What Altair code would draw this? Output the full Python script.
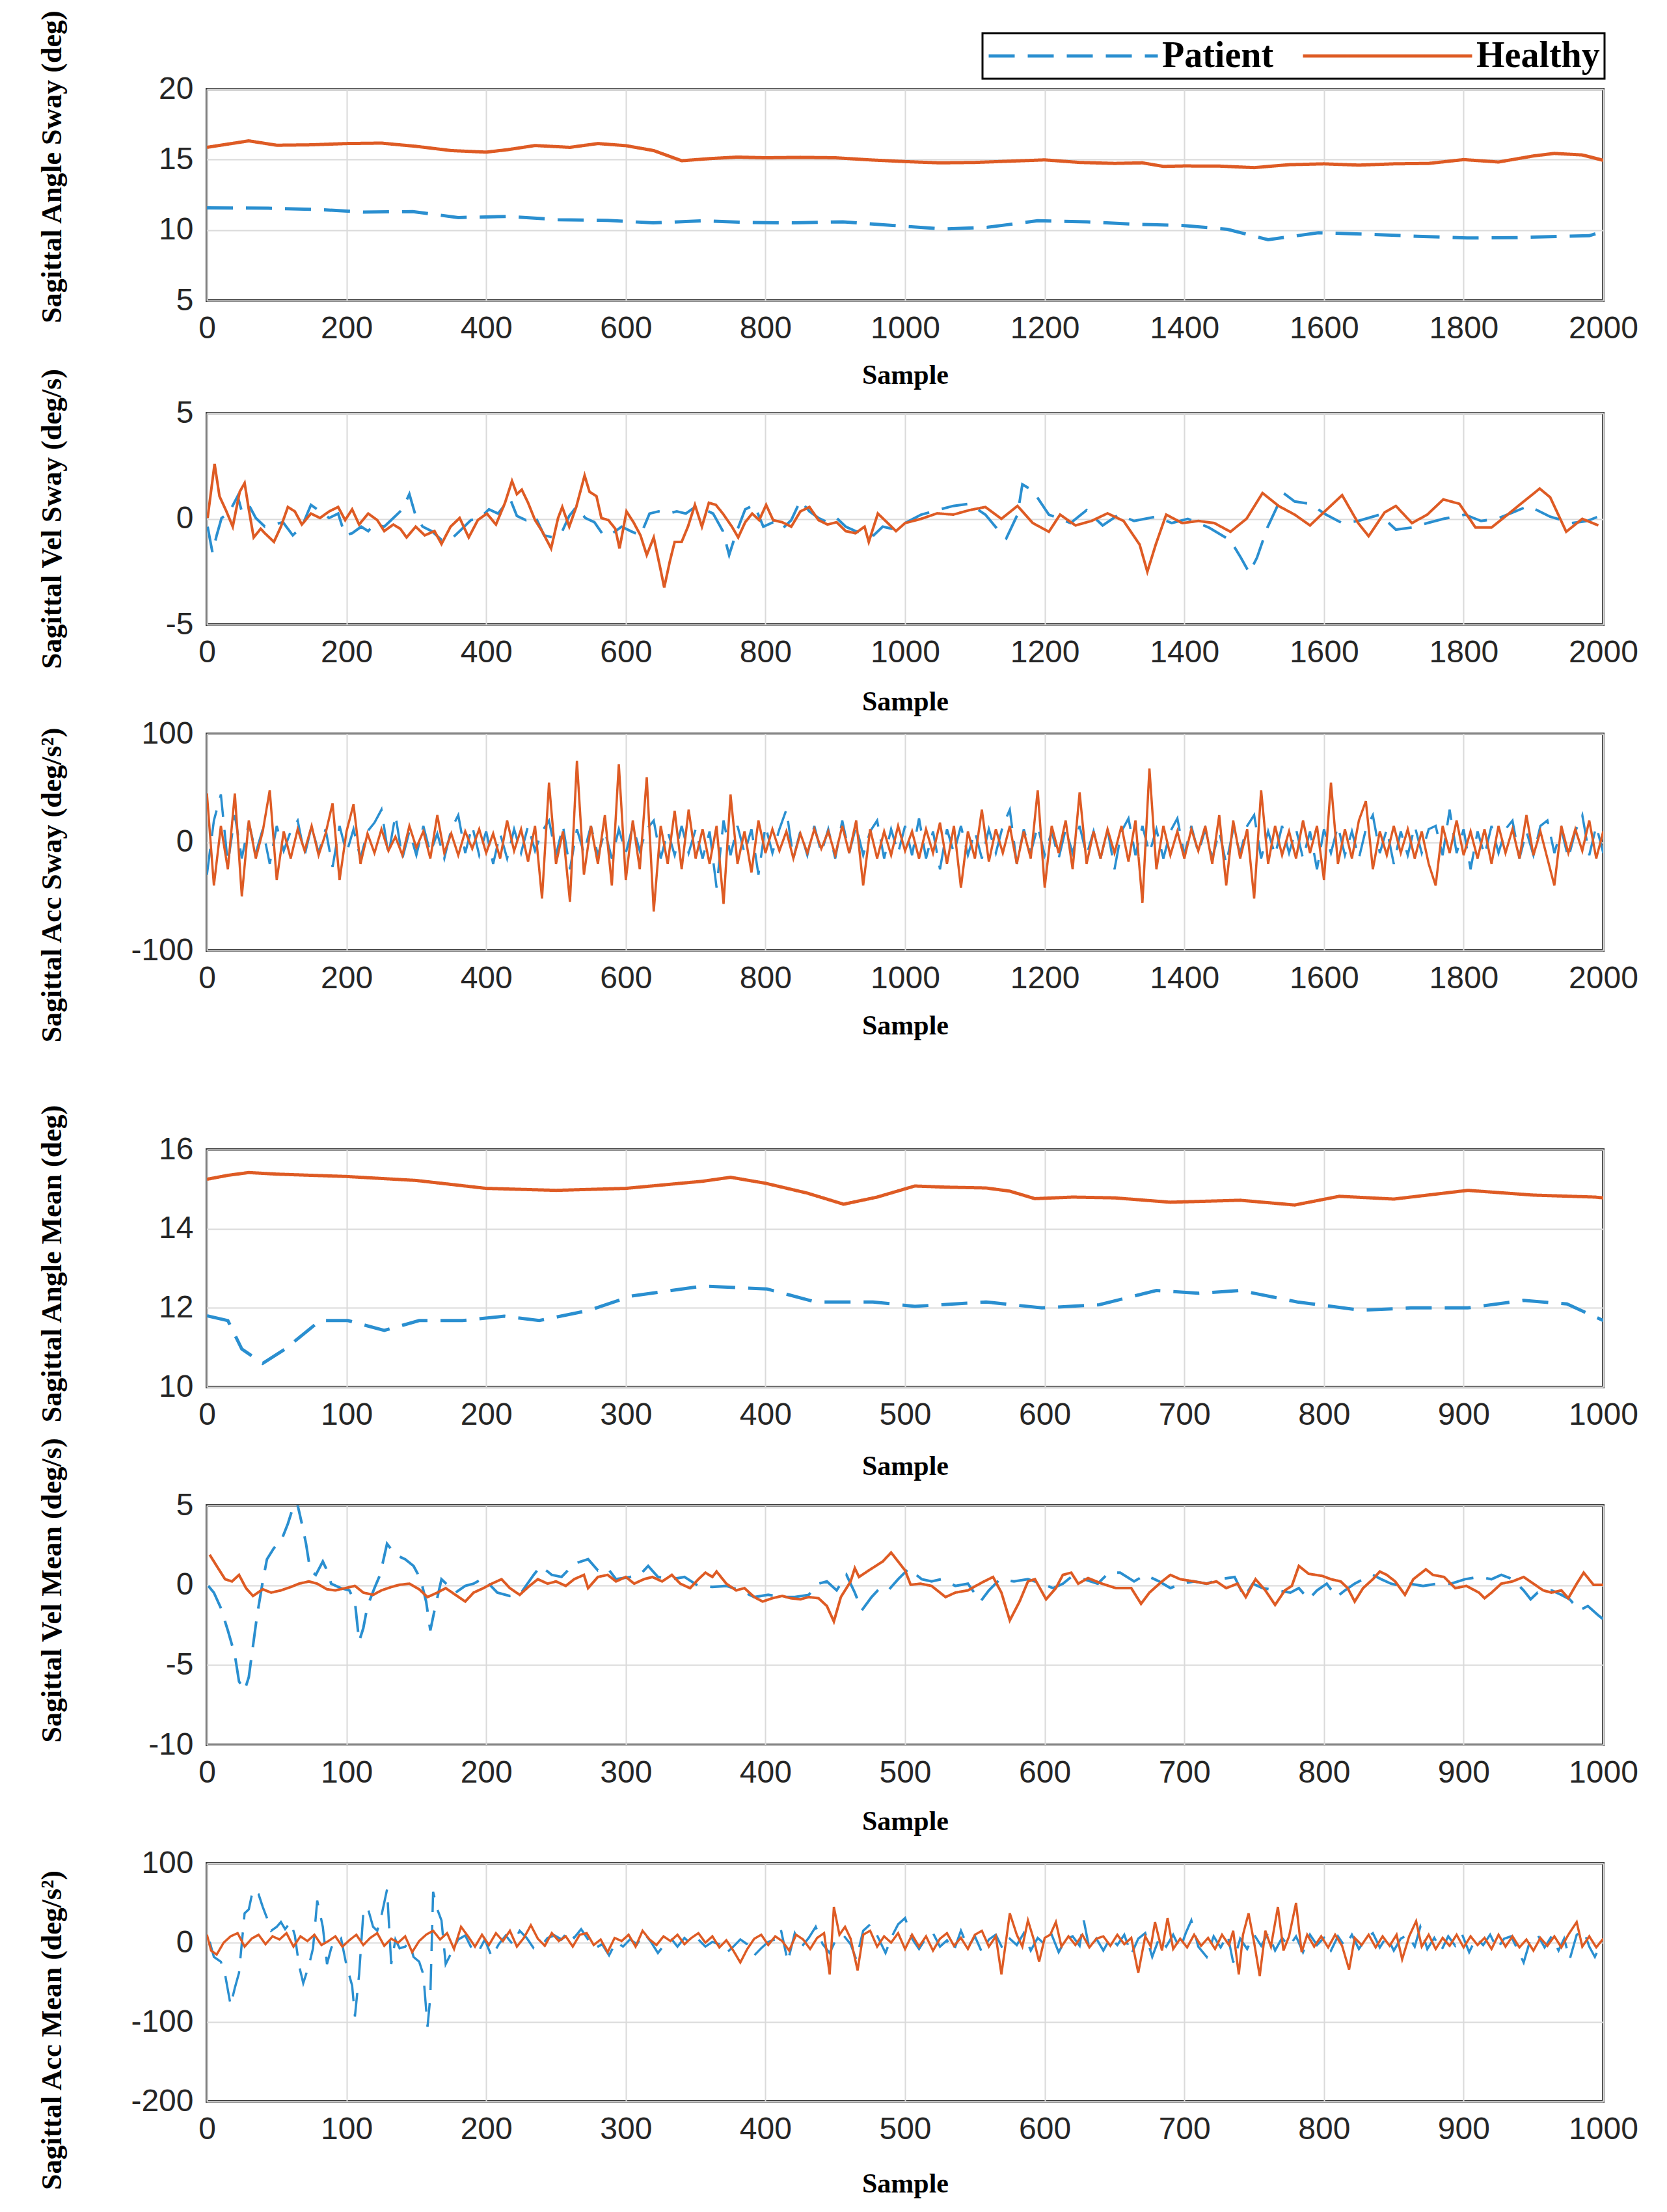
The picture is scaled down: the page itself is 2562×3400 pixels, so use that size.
import altair as alt
import pandas as pd

SERIES = ["Patient", "Healthy"]
COLORS = ["#2a8fd0", "#de5b24"]
DASHES = [[40, 20], [1, 0]]
X_TICKS_2000 = [0, 200, 400, 600, 800, 1000, 1200, 1400, 1600, 1800, 2000]
X_TICKS_1000 = [0, 100, 200, 300, 400, 500, 600, 700, 800, 900, 1000]

# ---------- Panel 1: Sagittal Angle Sway ----------
P1_PATIENT = [(0, 11.58), (88, 11.55), (159, 11.46), (224, 11.28), (295, 11.31), (360, 10.89), (432, 10.97),
              (503, 10.74), (574, 10.69), (639, 10.51), (710, 10.66), (775, 10.54), (840, 10.51), (911, 10.59),
              (982, 10.33), (1054, 10.08), (1118, 10.2), (1190, 10.66), (1261, 10.59), (1326, 10.42), (1397, 10.33),
              (1462, 10.05), (1520, 9.32), (1592, 9.81), (1663, 9.71), (1734, 9.56), (1805, 9.44), (1877, 9.47),
              (1941, 9.56), (1980, 9.6), (2000, 9.9)]
P1_HEALTHY = [(0, 15.87), (30, 16.1), (60, 16.33), (100, 16.02), (150, 16.05), (200, 16.14), (250, 16.17),
              (300, 15.94), (350, 15.64), (400, 15.53), (430, 15.7), (470, 16.0), (520, 15.87), (560, 16.14),
              (600, 15.99), (640, 15.64), (680, 14.92), (720, 15.07), (760, 15.18), (800, 15.13), (850, 15.16),
              (900, 15.13), (950, 14.98), (1000, 14.86), (1050, 14.77), (1100, 14.8), (1150, 14.89), (1200, 14.98),
              (1250, 14.8), (1300, 14.73), (1340, 14.77), (1370, 14.52), (1400, 14.55), (1450, 14.54), (1500, 14.43),
              (1550, 14.64), (1600, 14.7), (1650, 14.61), (1700, 14.7), (1750, 14.73), (1800, 15.0), (1850, 14.83),
              (1900, 15.26), (1930, 15.44), (1970, 15.33), (2000, 14.95)]

# ---------- Panel 2: Sagittal Vel Sway ----------
P2_PATIENT = [(1, -0.37), (8, -1.6), (14, -0.78), (21, 0.04), (31, 0.25), (44, 1.07), (50, 0.35), (60, 0.66),
              (70, 0.04), (83, -0.37), (96, -0.27), (109, -0.16), (123, -0.78), (136, -0.37), (149, 0.66),
              (162, 0.35), (175, 0.04), (188, 0.25), (198, -0.78), (208, -0.68), (221, -0.37), (231, -0.58),
              (240, -0.27), (254, -0.37), (267, 0.04), (280, 0.45), (290, 1.17), (299, 0.14), (309, -0.37),
              (322, -0.58), (336, -0.99), (349, -0.99), (362, -0.58), (378, -0.06), (391, 0.04), (404, 0.45),
              (417, 0.25), (434, 0.97), (444, 0.14), (457, -0.06), (470, 0.14), (483, -0.78), (496, -0.88),
              (509, -0.58), (519, 0.14), (529, 0.56), (542, 0.04), (555, -0.16), (568, -0.78), (581, -0.68),
              (594, -0.37), (607, -0.58), (621, -0.78), (634, 0.25), (647, 0.35), (660, 0.25), (673, 0.35),
              (686, 0.25), (699, 0.56), (712, 0.45), (725, 0.25), (739, -0.58), (748, -1.71), (758, -0.68),
              (771, 0.45), (784, 0.66), (797, -0.37), (811, -0.16), (824, -0.47), (837, -0.06), (850, 0.86),
              (863, 0.35), (876, 0.04), (889, -0.16), (902, 0.04), (915, -0.37), (929, -0.58), (942, -0.68),
              (955, -0.78), (968, -0.37), (981, -0.47),
              (1000, -0.2), (1023, 0.2), (1046, 0.41), (1069, 0.61), (1092, 0.71), (1115, 0.2), (1138, -0.71),
              (1145, -0.92), (1161, 0.2), (1168, 1.63), (1183, 1.33), (1206, 0.2), (1237, -0.2), (1260, 0.41),
              (1283, -0.31), (1306, 0.2), (1328, -0.1), (1359, 0.1), (1382, -0.2), (1405, 0.0), (1435, -0.41),
              (1466, -1.02), (1481, -1.84), (1493, -2.55), (1504, -1.84), (1519, -0.41), (1542, 1.22), (1558, 0.82),
              (1580, 0.71), (1603, 0.2), (1626, -0.2), (1649, -0.1), (1680, 0.2), (1703, -0.51), (1726, -0.41),
              (1748, -0.2), (1771, 0.0), (1802, 0.2), (1825, -0.1), (1848, 0.0), (1871, 0.31), (1893, 0.61),
              (1924, 0.1), (1955, -0.2), (1977, -0.1), (2000, 0.2)]
P2_HEALTHY = [(1, 0.04), (11, 2.6), (18, 1.07), (28, 0.35), (37, -0.37), (47, 1.28), (54, 1.69), (60, 0.45),
              (67, -0.88), (77, -0.47), (83, -0.68), (96, -1.09), (106, -0.37), (116, 0.56), (126, 0.35),
              (136, -0.27), (149, 0.25), (162, 0.04), (175, 0.35), (188, 0.56), (198, -0.06), (208, 0.45),
              (218, -0.27), (231, 0.25), (244, -0.06), (254, -0.58), (267, -0.27), (277, -0.47), (286, -0.88),
              (299, -0.37), (312, -0.78), (326, -0.58), (336, -1.19), (349, -0.37), (362, 0.04), (375, -0.88),
              (388, -0.06), (401, 0.25), (414, -0.27), (427, 0.76), (437, 1.79), (444, 1.17), (451, 1.38),
              (460, 0.76), (470, -0.06), (480, -0.58), (493, -1.4), (503, 0.04), (509, 0.56), (519, -0.37),
              (529, 0.56), (541, 2.05), (548, 1.28), (558, 1.07), (565, 0.04), (575, -0.06), (585, -0.47),
              (591, -1.4), (601, 0.35), (611, -0.16), (621, -0.78), (630, -1.71), (640, -0.88), (650, -2.43),
              (655, -3.25), (663, -2.02), (670, -1.09), (680, -1.09), (689, -0.37), (699, 0.66), (709, -0.37),
              (719, 0.76), (729, 0.66), (739, 0.25), (752, -0.37), (761, -0.88), (771, -0.16), (781, 0.25),
              (791, -0.06), (801, 0.66), (811, -0.06), (824, -0.16), (837, -0.37), (850, 0.35), (863, 0.56),
              (876, -0.06), (889, -0.27), (902, -0.16), (915, -0.58), (929, -0.68), (942, -0.37), (948, -1.09),
              (961, 0.25), (974, -0.16), (987, -0.58),
              (1000, -0.2), (1023, 0.0), (1046, 0.26), (1069, 0.2), (1092, 0.41), (1115, 0.56), (1138, 0.0),
              (1161, 0.61), (1183, -0.2), (1206, -0.61), (1222, 0.2), (1244, -0.31), (1267, -0.1), (1290, 0.26),
              (1313, -0.1), (1336, -1.22), (1347, -2.5), (1359, -1.22), (1374, 0.2), (1397, -0.2), (1420, -0.1),
              (1443, -0.2), (1466, -0.61), (1489, 0.0), (1512, 1.22), (1535, 0.61), (1558, 0.2), (1580, -0.31),
              (1603, 0.41), (1626, 1.12), (1649, -0.2), (1664, -0.82), (1687, 0.31), (1703, 0.61), (1726, -0.2),
              (1748, 0.2), (1771, 0.92), (1794, 0.71), (1817, -0.41), (1840, -0.41), (1863, 0.2), (1886, 0.82),
              (1909, 1.43), (1924, 1.02), (1947, -0.61), (1970, 0.0), (1993, -0.31)]

# ---------- Panel 3: Sagittal Acc Sway (one value every 10 samples, 0..2000) ----------
P3_SAMPLES = list(range(0, 2001, 10))
P3_PATIENT = [-30, 20, 44, -20, 25, -15, 18, -10, 12, -20,
              15, -8, 10, 20, -12, 15, -10, 12, -23, 15,
              -10, 12, -15, 10, 18, 30, -12, 25, -15, 10,
              -12, 15, -10, 8, -15, 12, 25, -10, 15, -12,
              10, -20, 8, -15, 12, -10, 15, -8, 10, 20,
              -12, 15, -25, 12, -10, 15, -12, 10, -15, 12,
              -10, 15, -8, 12, 20, -15, 10, -12, 15, -10,
              12, -15, 10, -42, 20, -12, 15, -10, 12, -30,
              15, -10, 12, 30, -15, 10, -12, 15, -10, 12,
              -15, 20, -10, 15, -12, 10, 20, -15, 12, -10,
              15, -12, 22, -15, 10, -25, 12, -10, 15, -12,
              10, -15, 12, -10, 15, 30, -20, 12, -10, 15,
              -12, 10, -15, 12, -10, 15, -12, 10, -15, 12,
              -25, 10, 22, -12, 15, -10, 12, -15, 10, 22,
              -12, 15, -10, 12, -15, 10, -20, 12, -10, 15,
              25, -15, 10, -12, 15, -10, 12, -15, 10, -25,
              12, -10, 15, -12, 10, -15, 12, 25, -10, 12,
              -20, 10, -12, 15, -10, 12, 15, -12, 30, -10,
              12, -25, 10, -12, 15, -10, 12, 20, -15, 10,
              -12, 15, 20, -10, 12, -15, 10, 25, -12, 15,
              -10]
P3_HEALTHY = [45, -40, 15, -25, 45, -50, 20, -15, 10, 48,
              -35, 10, -15, 12, -8, 15, -12, 8, 36, -35,
              10, 35, -20, 8, -10, 12, -8, 5, -12, 15,
              -5, 10, -15, 25, -10, 8, -12, 10, -6, 12,
              -10, 8, -15, 20, -8, 12, -18, 15, -52, 55,
              -20, 10, -55, 75, -30, 15, -20, 25, -40, 72,
              -35, 20, -25, 60, -64, 15, -20, 29, -25, 30,
              -15, 12, -20, 15, -57, 44, -20, 10, -28, 20,
              -10, 12, -8, 10, -15, 8, -10, 12, -6, 10,
              -12, 15, -10, 20, -40, 12, -15, 10, -12, 15,
              -8, 10, -15, 12, -10, 18, -20, 15, -42, 10,
              -15, 30, -18, 12, -10, 15, -20, 10, -15, 48,
              -42, 15, -10, 20, -25, 46, -20, 10, -15, 12,
              -10, 15, -18, 20, -56, 68, -25, 15, -12, 10,
              -15, 12, -8, 15, -20, 25, -40, 20, -15, 12,
              -52, 48, -20, 15, -12, 10, -15, 20, -10, 15,
              -35, 55, -20, 12, -15, 20, 38, -25, 10, -12,
              15, -10, 12, -15, 10, -20, -40, 15, -10, 20,
              -12, 10, -15, 12, -20, 15, -10, 12, -15, 25,
              -12, 10, -15, -40, 15, -10, 12, -8, 20, -15,
              10]

# ---------- Panel 4: Sagittal Angle Mean ----------
P4_PATIENT = [(0, 11.8), (15, 11.68), (25, 10.96), (40, 10.6), (56, 10.96), (81, 11.68), (101, 11.68),
              (127, 11.43), (152, 11.68), (183, 11.68), (213, 11.79), (238, 11.68), (274, 11.94), (304, 12.3),
              (355, 12.55), (401, 12.48), (436, 12.15), (477, 12.15), (507, 12.04), (558, 12.15), (598, 12.0),
              (639, 12.08), (680, 12.44), (710, 12.37), (740, 12.44), (781, 12.15), (827, 11.94), (862, 12.0),
              (903, 12.0), (943, 12.19), (974, 12.1), (1000, 11.68)]
P4_HEALTHY = [(0, 15.25), (15, 15.35), (30, 15.42), (50, 15.38), (100, 15.32), (150, 15.22), (200, 15.02),
              (250, 14.97), (300, 15.02), (355, 15.2), (375, 15.3), (400, 15.15), (430, 14.9), (456, 14.62),
              (480, 14.8), (507, 15.08), (530, 15.05), (558, 15.03), (575, 14.95), (593, 14.76), (620, 14.8),
              (650, 14.78), (690, 14.67), (740, 14.72), (779, 14.6), (811, 14.82), (850, 14.75), (903, 14.97),
              (950, 14.85), (994, 14.8), (1000, 14.78)]

# ---------- Panel 5: Sagittal Vel Mean ----------
P5_PATIENT = [(1, -0.04), (5, -0.46), (10, -1.43), (15, -2.83), (20, -4.36), (23, -6.03), (27, -6.59),
              (30, -5.75), (33, -3.8), (36, -1.85), (40, 0.24), (43, 1.63), (48, 2.33), (53, 2.74), (58, 3.86),
              (62, 4.97), (64, 5.4), (68, 3.86), (71, 2.6), (74, 0.93), (78, 0.65), (83, 1.49), (86, 0.93),
              (89, 0.1), (96, -0.18), (102, -0.32), (106, -1.02), (109, -3.52), (112, -2.69), (115, -1.3),
              (120, -0.18), (124, 0.65), (129, 2.6), (135, 1.91), (142, 1.63), (148, 1.21), (153, 0.38),
              (157, -1.02), (160, -2.83), (163, -1.57), (168, 0.38), (173, -0.04), (178, -0.46), (185, -0.04),
              (191, 0.1), (198, 0.45), (208, -0.46), (217, -0.67), (224, -0.6), (234, 0.65), (239, 1.21),
              (247, 0.65), (254, 0.52), (263, 1.35), (273, 1.63), (280, 0.93), (287, 1.07), (293, 0.38),
              (303, 0.52), (310, 0.65), (316, 1.21), (323, 0.52), (333, 0.38), (342, 0.52), (352, -0.04),
              (362, -0.11), (372, -0.04), (382, -0.32), (392, -0.74), (402, -0.6), (412, -0.74), (421, -0.74),
              (431, -0.6), (438, 0.1), (444, 0.24), (451, -0.32), (458, 0.65), (464, -0.46), (469, -1.57),
              (476, -0.74), (482, -0.18), (488, -0.32), (495, 0.38),
              (503, 1.07), (508, 0.65), (512, 0.38), (519, 0.24), (526, 0.38), (536, -0.04), (545, 0.1),
              (554, -1.02), (560, -0.32), (568, 0.38), (578, 0.24), (588, 0.38), (598, 0.1), (606, -0.18),
              (613, 0.1), (619, 0.52), (628, 0.38), (638, 0.1), (646, 0.79), (654, 0.79), (664, 0.24),
              (672, 0.65), (682, 0.24), (690, -0.18), (698, 0.1), (707, 0.24), (716, 0.1), (726, 0.38),
              (736, 0.52), (743, -0.74), (749, 0.1), (756, -0.18), (766, -0.32), (776, -0.46), (782, -0.18),
              (789, -0.88), (795, -0.32), (802, 0.1), (809, -0.74), (815, -0.32), (822, 0.1), (828, 0.38),
              (835, 0.65), (841, 0.38), (848, 0.1), (855, -0.04), (861, 0.1), (871, -0.04), (881, 0.1),
              (891, 0.1), (901, 0.38), (911, 0.52), (920, 0.38), (927, 0.65), (935, 0.38), (943, -0.32),
              (948, -0.88), (953, -0.46), (963, -0.32), (970, -0.6), (976, -0.88), (983, -1.57), (989, -1.3),
              (996, -1.85), (1000, -2.13)]
P5_HEALTHY = [(2, 1.91), (7, 1.21), (13, 0.38), (18, 0.24), (23, 0.65), (28, -0.18), (33, -0.67), (40, -0.25),
              (46, -0.46), (53, -0.32), (60, -0.11), (66, 0.1), (73, 0.24), (79, 0.1), (86, -0.25), (92, -0.32),
              (99, -0.18), (106, -0.04), (112, -0.46), (119, -0.6), (125, -0.32), (132, -0.11), (138, 0.03),
              (145, 0.1), (152, -0.25), (158, -0.74), (165, -0.46), (171, -0.18), (178, -0.6), (185, -1.02),
              (191, -0.46), (198, -0.18), (204, 0.1), (211, 0.38), (217, -0.18), (224, -0.6), (231, -0.04),
              (237, 0.38), (244, 0.1), (250, 0.24), (257, -0.04), (263, 0.38), (270, 0.65), (273, -0.18),
              (280, 0.52), (287, 0.65), (293, 0.24), (300, 0.52), (306, 0.1), (313, 0.38), (319, 0.52),
              (326, 0.24), (333, 0.65), (339, 0.1), (346, -0.18), (352, 0.38), (357, 0.79), (362, 0.52),
              (365, 0.86), (372, 0.1), (379, -0.32), (385, -0.18), (392, -0.74), (398, -1.02), (405, -0.81),
              (412, -0.67), (418, -0.81), (425, -0.88), (431, -0.74), (438, -0.81), (444, -1.3), (449, -2.27),
              (454, -0.74), (461, 0.24), (464, 1.07), (467, 0.52), (474, 0.93), (484, 1.49), (490, 2.05),
              (500, 0.93), (504, 0.03), (511, 0.1), (519, -0.04), (529, -0.74), (536, -0.46), (545, -0.32),
              (555, 0.17), (563, 0.52), (569, -0.46), (575, -2.2), (582, -1.02), (588, 0.24), (593, 0.38),
              (601, -0.88), (608, -0.18), (613, 0.65), (619, 0.79), (624, 0.1), (631, 0.45), (641, 0.1),
              (651, -0.18), (662, -0.18), (669, -1.16), (675, -0.46), (684, 0.24), (690, 0.65), (697, 0.38),
              (707, 0.24), (716, 0.1), (723, 0.24), (730, -0.18), (738, 0.1), (744, -0.74), (751, 0.38),
              (758, -0.32), (765, -1.23), (772, -0.32), (777, -0.04), (782, 1.21), (789, 0.72), (799, 0.58),
              (805, 0.38), (812, 0.24), (817, -0.18), (822, -1.02), (828, -0.18), (835, 0.38), (840, 0.86),
              (845, 0.65), (851, 0.24), (858, -0.6), (864, 0.38), (873, 1.0), (878, 0.65), (886, 0.52),
              (894, -0.18), (902, -0.04), (911, -0.46), (915, -0.81), (920, -0.46), (927, 0.1), (935, 0.24),
              (943, 0.52), (950, 0.1), (957, -0.32), (963, -0.46), (970, -0.32), (975, -0.81), (981, 0.1),
              (986, 0.79), (993, 0.03), (1000, 0.03)]

# ---------- Panel 6: Sagittal Acc Mean ----------
P6_PATIENT = [(2, 1), (5, -18), (10, -24), (13, -40), (17, -79), (20, -57), (23, -38), (27, 37), (30, 42),
              (33, 67), (37, 61), (40, 45), (43, 31), (46, 15), (50, 20), (53, 26), (56, 17), (60, 26), (63, 9),
              (66, -29), (69, -51), (73, -29), (76, -7), (79, 53), (83, 20), (86, -27), (89, -7), (92, 4), (96, 6),
              (100, -29), (104, -54), (106, -93), (109, -40), (112, 37), (115, 45), (119, 20), (122, 15),
              (125, 34), (129, 67), (132, -27), (135, 4), (138, -7), (142, -5), (145, 1), (148, -18), (152, -24),
              (155, -40), (158, -106), (160, -68), (162, 64), (165, 42), (168, 28), (171, -27), (175, -13),
              (180, 4), (185, 9), (189, -5), (194, -13), (199, 4), (204, -18), (209, -2), (214, 9), (219, -2),
              (224, 15), (229, 6), (234, -7), (239, -5), (244, 6), (249, 9), (254, 4), (259, 15), (263, 6),
              (268, 17), (273, 4), (278, -7), (283, -2), (288, -16), (293, 1), (298, -5), (303, 4), (308, -2),
              (313, 12), (318, 1), (323, -13), (328, -2), (333, 4), (337, -5), (342, 6), (347, -2), (352, 4),
              (357, -5), (362, 1), (367, -2), (372, -13), (377, -5), (382, 4), (387, -2), (392, -16), (397, -7),
              (402, 1), (407, 4), (411, 17), (416, -24), (421, 12), (426, -5), (431, 6), (436, 20), (441, -2),
              (446, -13), (451, 6), (456, 9), (461, -2), (465, -21), (470, 15), (475, 23), (480, 9), (486, -13),
              (490, 6), (495, 23),
              (500, 31), (505, 5), (510, -8), (515, 6), (520, 12), (525, -5), (530, 3), (535, -10), (540, 15),
              (545, -6), (550, 8), (555, -12), (560, 4), (565, 10), (570, -8), (575, 5), (580, -3), (585, 12),
              (590, -10), (595, 6), (600, -2), (605, 10), (610, -12), (615, 4), (620, 8), (625, -4), (628, 28),
              (632, -8), (637, 5), (642, -10), (647, 6), (652, -3), (657, 10), (662, -15), (667, 5), (672, 12),
              (677, -18), (682, 6), (687, -5), (692, 10), (697, -8), (701, 12), (705, 28), (710, -5), (716, -18),
              (721, 8), (726, -6), (731, 10), (735, -25), (740, 5), (745, -8), (750, 10), (755, -4), (760, 12),
              (765, -10), (770, 6), (775, -5), (780, 8), (785, -12), (790, 10), (795, -3), (800, 6), (805, -10),
              (810, 8), (815, -5), (820, 10), (825, -8), (830, 5), (835, 12), (840, -6), (845, 8), (850, -10),
              (855, 5), (860, 10), (865, -5), (869, 20), (874, -8), (879, 6), (884, -10), (889, 8), (894, -4),
              (899, 10), (904, -12), (909, 6), (914, -3), (919, 10), (924, -8), (929, 5), (934, 8), (939, -10),
              (943, -25), (948, 5), (953, 10), (958, -6), (963, 8), (968, -10), (972, 5), (976, -21), (981, 10),
              (986, 15), (990, -5), (994, -18), (1000, 5)]
P6_HEALTHY = [(0, 10), (3, -10), (7, -15), (12, 0), (17, 8), (22, 12), (27, -5), (32, 5), (37, 10), (42, -2),
              (47, 8), (52, 4), (57, 12), (62, -5), (67, 8), (72, 2), (77, 10), (82, -3), (87, 2), (92, 8),
              (97, -5), (102, 3), (107, 10), (112, -3), (117, 6), (122, 12), (127, -4), (132, 5), (137, 0),
              (142, 8), (147, -12), (152, 2), (157, 10), (162, 15), (167, 4), (172, 12), (177, -8), (182, 20),
              (187, 8), (192, -5), (197, 10), (202, -3), (207, 12), (212, 2), (217, 15), (222, -5), (227, 6),
              (232, 22), (237, 5), (242, -4), (247, 12), (252, 2), (257, 8), (262, -5), (267, 10), (272, 12),
              (277, -3), (282, 4), (287, -12), (292, 6), (297, 2), (302, 10), (307, -5), (312, 15), (317, 4),
              (322, -3), (327, 8), (332, 2), (337, 10), (342, -2), (347, 6), (352, 12), (357, 0), (362, 8),
              (367, -6), (372, 3), (377, -10), (382, -25), (387, -8), (392, 5), (397, 10), (402, -3), (407, 8),
              (412, 2), (417, -10), (422, 10), (427, 4), (432, -8), (437, 6), (442, 12), (446, -40), (449, 45),
              (453, 10), (457, 20), (461, 5), (466, -35), (470, 10), (475, 15), (480, -5), (485, 8), (490, 0),
              (495, 12),
              (500, -8), (505, 10), (510, -5), (515, 8), (520, -10), (525, 5), (530, 12), (535, -4), (540, 6),
              (545, -8), (550, 10), (555, 15), (560, -5), (565, 8), (569, -40), (575, 37), (580, 10), (584, -5),
              (588, 28), (592, 5), (596, -24), (600, 6), (604, 10), (608, 26), (612, -5), (617, 8), (622, -3),
              (627, 10), (632, -6), (637, 5), (642, 8), (647, -4), (652, 10), (657, -2), (662, 6), (667, -38),
              (672, 8), (676, -5), (679, 26), (684, -10), (688, 31), (692, -8), (697, 5), (702, -6), (707, 10),
              (712, -4), (717, 6), (722, -8), (727, 10), (732, -3), (735, 15), (739, -40), (742, 10), (746, 37),
              (750, 0), (754, -42), (758, 15), (762, -5), (767, 45), (771, -10), (775, 8), (780, 50), (784, -12),
              (788, 10), (793, -5), (798, 8), (803, -6), (808, 10), (813, -4), (818, -34), (822, 6), (827, -3),
              (832, 10), (837, -6), (842, 8), (847, -4), (852, 10), (856, -21), (861, 8), (866, 27), (870, -5),
              (875, 10), (880, -8), (885, 6), (890, -4), (895, 10), (900, -6), (905, 8), (910, -3), (915, 6),
              (920, -8), (925, 10), (930, -5), (935, 8), (940, -6), (945, 4), (950, -10), (955, 6), (960, -4),
              (965, 8), (970, -6), (975, 10), (981, 26), (985, -5), (990, 8), (995, -6), (1000, 5)]

W = 2146


def pairs_frame(patient, healthy):
    rows = [{"Sample": s, "Value": v, "Series": "Patient"} for s, v in patient]
    rows += [{"Sample": s, "Value": v, "Series": "Healthy"} for s, v in healthy]
    return pd.DataFrame(rows)


def grid_frame(samples, patient, healthy):
    rows = [{"Sample": s, "Value": v, "Series": "Patient"} for s, v in zip(samples, patient)]
    rows += [{"Sample": s, "Value": v, "Series": "Healthy"} for s, v in zip(samples, healthy)]
    return pd.DataFrame(rows)


LEGEND = alt.Legend(title=None)


def panel(df, ytitle, ydomain, yticks, xdomain, xticks, height, sw, ytitle_y, xtitle_y):
    return alt.Chart(df).mark_line(clip=True, strokeWidth=sw).encode(
        x=alt.X("Sample:Q",
                scale=alt.Scale(domain=xdomain, nice=False, zero=False),
                axis=alt.Axis(values=xticks, title="Sample", titleY=xtitle_y)),
        y=alt.Y("Value:Q",
                scale=alt.Scale(domain=ydomain, nice=False, zero=False),
                axis=alt.Axis(values=yticks, title=ytitle, titleY=ytitle_y)),
        color=alt.Color("Series:N", scale=alt.Scale(domain=SERIES, range=COLORS), legend=LEGEND),
        strokeDash=alt.StrokeDash("Series:N", scale=alt.Scale(domain=SERIES, range=DASHES), legend=LEGEND),
    ).properties(width=W, height=height)


def spacer(h):
    return alt.Chart(pd.DataFrame({"Sample": [0]})).mark_point(opacity=0).encode(
        x=alt.value(0), y=alt.value(0)
    ).properties(width=W, height=h, view=alt.ViewBackground(stroke="transparent"))


p1 = panel(pairs_frame(P1_PATIENT, P1_HEALTHY), "Sagittal Angle Sway (deg)", [5, 20], [5, 10, 15, 20],
           [0, 2000], X_TICKS_2000, 325, 5, 119, 114)
p2 = panel(pairs_frame(P2_PATIENT, P2_HEALTHY), "Sagittal Vel Sway (deg/s)", [-5, 5], [-5, 0, 5],
           [0, 2000], X_TICKS_2000, 325, 4, 162, 118)
p3 = panel(grid_frame(P3_SAMPLES, P3_PATIENT, P3_HEALTHY), "Sagittal Acc Sway (deg/s²)", [-100, 100],
           [-100, 0, 100], [0, 2000], X_TICKS_2000, 333, 3.5, 232, 115)
p4 = panel(pairs_frame(P4_PATIENT, P4_HEALTHY), "Sagittal Angle Mean (deg)", [10, 16], [10, 12, 14, 16],
           [0, 1000], X_TICKS_1000, 365, 5, 175, 121)
p5 = panel(pairs_frame(P5_PATIENT, P5_HEALTHY), "Sagittal Vel Mean (deg/s)", [-10, 5], [-10, -5, 0, 5],
           [0, 1000], X_TICKS_1000, 368, 4, 130, 117)
p6 = panel(pairs_frame(P6_PATIENT, P6_HEALTHY), "Sagittal Acc Mean (deg/s²)", [-200, 100],
           [-200, -100, 0, 100], [0, 1000], X_TICKS_1000, 366, 3.5, 256, 126)

chart = alt.vconcat(
    p1, spacer(153), p2, spacer(148), p3, spacer(286), p4, spacer(162), p5, spacer(162), p6,
    spacing=10, bounds="flush"
).properties(
    padding={"left": 48, "top": 4, "right": 30, "bottom": 20},
    background="white",
).configure_view(
    stroke="#3c3c3c", strokeWidth=4
).configure_axis(
    labelFont="Liberation Sans", labelFontSize=48, labelColor="#262626",
    labelExpr="'' + datum.value", labelFlush=False,
    titleFont="Liberation Serif", titleFontWeight="bold", titleColor="black",
    gridColor="#dadada", gridWidth=2, ticks=False, tickSize=0, domain=False,
).configure_axisX(
    labelPadding=43, labelBaseline="middle", titleFontSize=42, titleBaseline="middle",
).configure_axisY(
    labelPadding=21, titleFontSize=44, titleBaseline="alphabetic", titleX=-225,
).configure_legend(
    orient="none", legendX=1192, legendY=-86, direction="horizontal",
    symbolType="stroke", symbolSize=67600, symbolStrokeWidth=5, clipHeight=56,
    labelFont="Liberation Serif", labelFontWeight="bold", labelFontSize=56, labelColor="black",
    labelLimit=1000, labelOffset=4, columnPadding=42, padding=7,
    strokeColor="black", strokeWidth=3, fillColor="white",
)

chart.save("out.html", embed_options={"renderer": "svg", "actions": False})
